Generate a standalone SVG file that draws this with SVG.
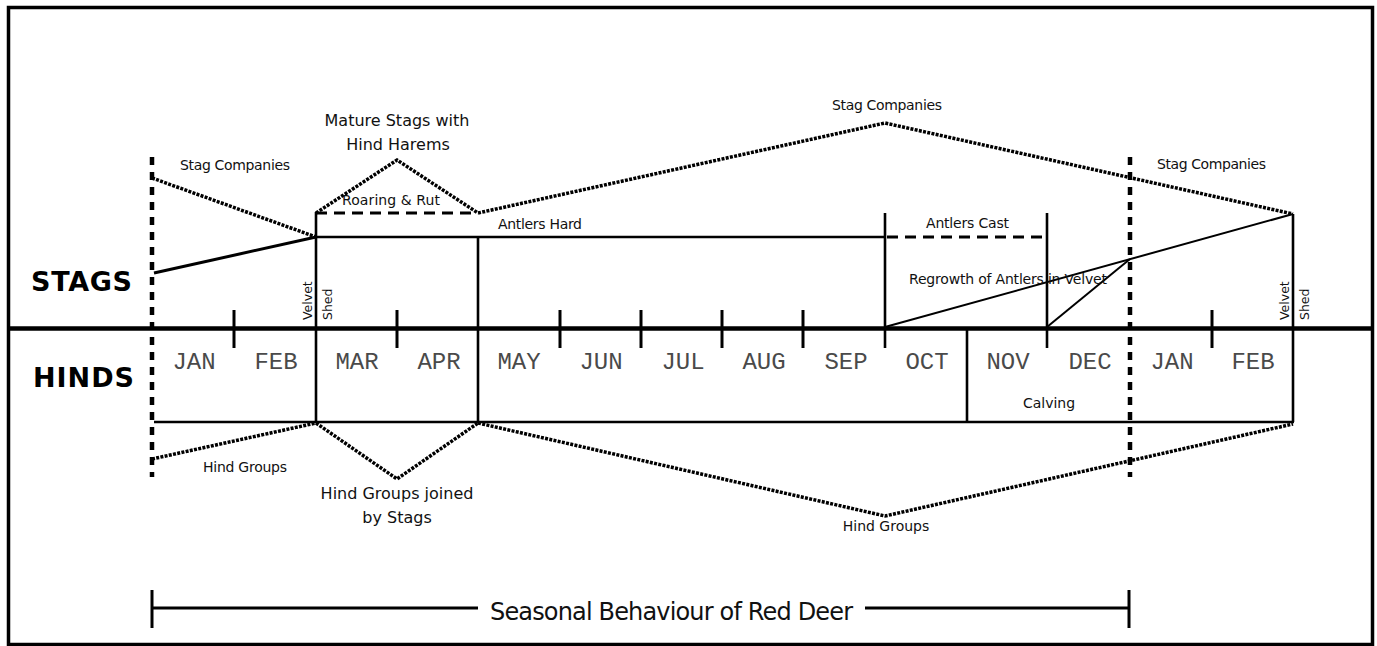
<svg xmlns="http://www.w3.org/2000/svg" width="1377" height="646" viewBox="0 0 1377 646">
<style>
.lbl{font-family:"DejaVu Sans","Liberation Sans",sans-serif;font-size:14px;fill:#111}
.big{font-family:"DejaVu Sans","Liberation Sans",sans-serif;font-size:16px;fill:#111}
.head{font-family:"DejaVu Sans","Liberation Sans",sans-serif;font-size:27px;font-weight:bold;fill:#000}
.mon{font-family:"Liberation Mono","DejaVu Sans Mono",monospace;font-size:24px;fill:#4a4a4a;text-anchor:middle}
.rot{font-family:"DejaVu Sans","Liberation Sans",sans-serif;font-size:12.5px;fill:#111}
.title{font-family:"DejaVu Sans","Liberation Sans",sans-serif;font-size:24px;fill:#111}
.solid{fill:none;stroke:#000;stroke-width:2.6}
.thin{fill:none;stroke:#000;stroke-width:2}
.dot{fill:none;stroke:#000;stroke-width:3.5;stroke-dasharray:3 1.3}
.dash{fill:none;stroke:#000;stroke-width:3;stroke-dasharray:11 7}
.bigdash{fill:none;stroke:#000;stroke-width:4.5;stroke-dasharray:8 7}
.tick{fill:none;stroke:#000;stroke-width:3}
</style>
<rect x="8.5" y="7.5" width="1364" height="637" fill="#fff" stroke="#000" stroke-width="3.5"/>

<g id="connectors">
  <line x1="8" y1="328.5" x2="1373" y2="328.5" stroke="#000" stroke-width="4.5"/>
  <line class="bigdash" x1="152" y1="157" x2="152" y2="477"/>
  <line class="bigdash" x1="1130" y1="157" x2="1130" y2="477"/>
  <g class="tick">
    <line x1="234" y1="310" x2="234" y2="348"/>
    <line x1="397" y1="310" x2="397" y2="348"/>
    <line x1="560" y1="310" x2="560" y2="348"/>
    <line x1="641" y1="310" x2="641" y2="348"/>
    <line x1="722" y1="310" x2="722" y2="348"/>
    <line x1="803" y1="310" x2="803" y2="348"/>
    <line x1="1212" y1="310" x2="1212" y2="348"/>
  </g>
  <line class="solid" x1="316" y1="212" x2="316" y2="422"/>
  <line class="solid" x1="478" y1="237" x2="478" y2="422"/>
  <line class="solid" x1="885" y1="213" x2="885" y2="348"/>
  <line class="solid" x1="1047" y1="213" x2="1047" y2="348"/>
  <line class="solid" x1="1293" y1="214" x2="1293" y2="422"/>
  <line class="solid" x1="967" y1="328" x2="967" y2="422"/>
  <line class="solid" x1="316" y1="237" x2="885" y2="237"/>
  <line class="dash" x1="316" y1="213" x2="478" y2="213"/>
  <line class="dash" x1="887" y1="237" x2="1047" y2="237"/>
  <line x1="154" y1="273" x2="316" y2="237" stroke="#000" stroke-width="3"/>
  <line class="thin" x1="885" y1="327" x2="1293" y2="214"/>
  <line class="thin" x1="1047" y1="327" x2="1130" y2="259"/>
  <line class="solid" x1="154" y1="422" x2="1294" y2="422"/>
  <polyline class="dot" points="152,178 316,237"/>
  <polyline class="dot" points="316,213 397,160 478,213"/>
  <polyline class="dot" points="478,213 885,123 1293,214"/>
  <polyline class="dot" points="152,459 316,423"/>
  <polyline class="dot" points="316,423 397,479 478,423"/>
  <polyline class="dot" points="478,423 885,516 1293,424"/>
  <line class="tick" x1="152" y1="590" x2="152" y2="628"/>
  <line class="tick" x1="1129" y1="590" x2="1129" y2="628"/>
  <line class="tick" x1="152" y1="608" x2="478" y2="608"/>
  <line class="tick" x1="865" y1="608" x2="1129" y2="608"/>
</g>

<g id="heading-stags"><text class="head" x="31" y="291" textLength="101">STAGS</text></g>
<g id="heading-hinds"><text class="head" x="33" y="387" textLength="101">HINDS</text></g>

<g id="months">
  <text class="mon" x="194" y="369">JAN</text>
  <text class="mon" x="276" y="369">FEB</text>
  <text class="mon" x="357" y="369">MAR</text>
  <text class="mon" x="439" y="369">APR</text>
  <text class="mon" x="519" y="369">MAY</text>
  <text class="mon" x="601" y="369">JUN</text>
  <text class="mon" x="683" y="369">JUL</text>
  <text class="mon" x="764" y="369">AUG</text>
  <text class="mon" x="846" y="369">SEP</text>
  <text class="mon" x="927" y="369">OCT</text>
  <text class="mon" x="1008" y="369">NOV</text>
  <text class="mon" x="1090" y="369">DEC</text>
  <text class="mon" x="1172" y="369">JAN</text>
  <text class="mon" x="1253" y="369">FEB</text>
</g>

<g id="stag-companies-1"><text class="lbl" x="180" y="170" textLength="110">Stag Companies</text></g>
<g id="mature-stags"><text class="big" x="397" y="126" text-anchor="middle">Mature Stags with</text><text class="big" x="398" y="150" text-anchor="middle">Hind Harems</text></g>
<g id="roaring-rut"><text class="lbl" x="342" y="205" textLength="98">Roaring &amp; Rut</text></g>
<g id="stag-companies-2"><text class="lbl" x="832" y="110" textLength="110">Stag Companies</text></g>
<g id="stag-companies-3"><text class="lbl" x="1157" y="169" textLength="109">Stag Companies</text></g>
<g id="antlers-hard"><text class="lbl" x="498" y="229" textLength="84">Antlers Hard</text></g>
<g id="antlers-cast"><text class="lbl" x="926" y="228" textLength="83">Antlers Cast</text></g>
<g id="regrowth"><text class="lbl" x="909" y="284" textLength="198">Regrowth of Antlers in Velvet</text></g>
<g id="velvet-shed-1">
  <text class="rot" transform="translate(312,320) rotate(-90)">Velvet</text>
  <text class="rot" transform="translate(332,320) rotate(-90)">Shed</text>
</g>
<g id="velvet-shed-2">
  <text class="rot" transform="translate(1289,320) rotate(-90)">Velvet</text>
  <text class="rot" transform="translate(1309,320) rotate(-90)">Shed</text>
</g>
<g id="calving"><text class="lbl" x="1049" y="408" text-anchor="middle">Calving</text></g>
<g id="hind-groups-1"><text class="lbl" x="203" y="472" textLength="84">Hind Groups</text></g>
<g id="hind-groups-joined"><text class="big" x="397" y="499" text-anchor="middle">Hind Groups joined</text><text class="big" x="397" y="523" text-anchor="middle">by Stags</text></g>
<g id="hind-groups-2"><text class="lbl" x="886" y="531" text-anchor="middle">Hind Groups</text></g>
<g id="title"><text class="title" x="490" y="620" textLength="363">Seasonal Behaviour of Red Deer</text></g>
</svg>
